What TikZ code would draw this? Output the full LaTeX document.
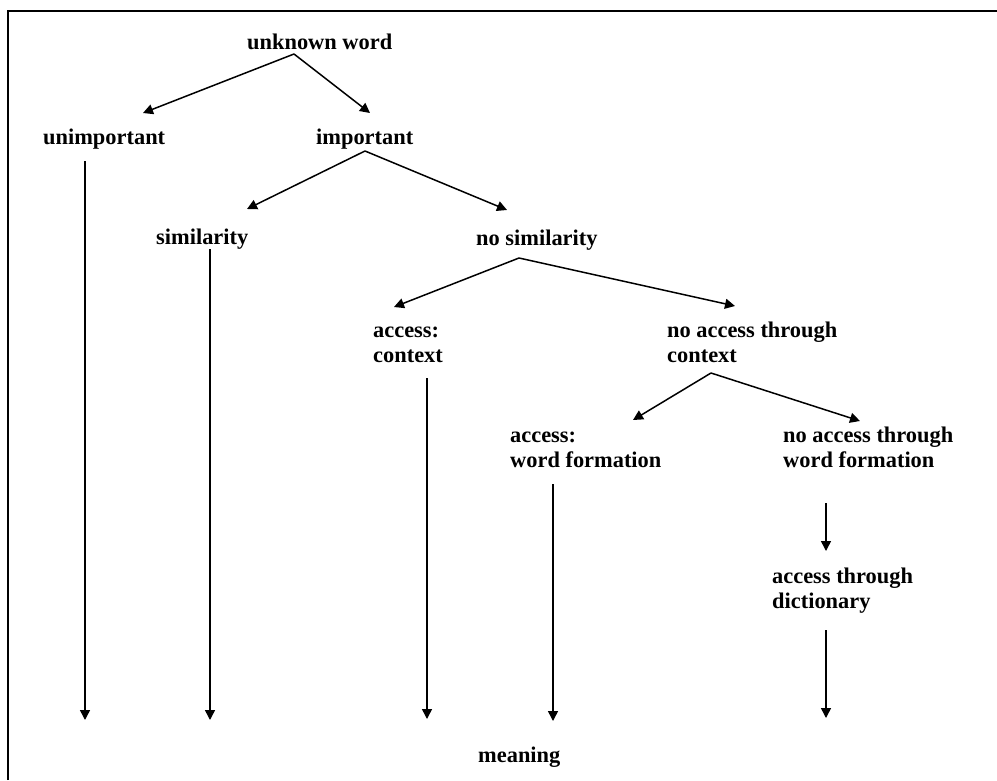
\documentclass[tikz,border=0pt]{standalone}
\usepackage{fontspec}
\setmainfont{Liberation Serif}
\usetikzlibrary{arrows.meta}
\tikzset{
  lbl/.style={anchor=base west, inner sep=0pt, align=left, font=\fontsize{22.4}{25}\selectfont\bfseries},
  conn/.style={line width=1.5pt, -{Triangle[length=10pt,width=10pt]}},
  frame/.style={line width=2pt}
}
\begin{document}
\begin{tikzpicture}[x=1pt,y=-1pt]
\useasboundingbox (0,0) rectangle (997,780);
\draw[frame] (8,780) -- (8,11) -- (997,11);
% labels (base anchor = baseline of last line)
\node[lbl] (uw) at (247,49) {unknown word};
\node[lbl] (unimp) at (43,144) {unimportant};
\node[lbl] (imp) at (316,144) {important};
\node[lbl] (sim) at (156,244) {similarity};
\node[lbl] (nosim) at (476,245) {no similarity};
\node[lbl] (acc) at (373,362) {access:\\context};
\node[lbl] (noacc) at (667,362) {no access through\\context};
\node[lbl] (accwf) at (510,467) {access:\\word formation};
\node[lbl] (noaccwf) at (783,467) {no access through\\word formation};
\node[lbl] (dict) at (772,608) {access through\\dictionary};
\node[lbl] (meaning) at (478,762) {meaning};
% connector points
\coordinate (uwA) at (294,54);
\coordinate (unimpT) at (143,113);
\coordinate (impT) at (370,113);
\coordinate (impA) at (365,151);
\coordinate (simT) at (247,209);
\coordinate (nosimT) at (507,210);
\coordinate (nosimA) at (519,258);
\coordinate (accT) at (394,307);
\coordinate (noaccT) at (735,306);
\coordinate (noaccA) at (711,373);
\coordinate (accwfT) at (633,420);
\coordinate (noaccwfT) at (860,421);
\coordinate (v1s) at (85,161);  \coordinate (v1e) at (85,720);
\coordinate (v2s) at (210,249); \coordinate (v2e) at (210,720);
\coordinate (v3s) at (427,378); \coordinate (v3e) at (427,719);
\coordinate (v4s) at (553,484); \coordinate (v4e) at (553,721);
\coordinate (v5s) at (826,503); \coordinate (v5e) at (826,551);
\coordinate (v6s) at (826,630); \coordinate (v6e) at (826,718);
% connectors
\draw[conn] (uwA) -- (unimpT);
\draw[conn] (uwA) -- (impT);
\draw[conn] (impA) -- (simT);
\draw[conn] (impA) -- (nosimT);
\draw[conn] (nosimA) -- (accT);
\draw[conn] (nosimA) -- (noaccT);
\draw[conn] (noaccA) -- (accwfT);
\draw[conn] (noaccA) -- (noaccwfT);
\draw[conn] (v1s) -- (v1e);
\draw[conn] (v2s) -- (v2e);
\draw[conn] (v3s) -- (v3e);
\draw[conn] (v4s) -- (v4e);
\draw[conn] (v5s) -- (v5e);
\draw[conn] (v6s) -- (v6e);
\end{tikzpicture}
\end{document}
